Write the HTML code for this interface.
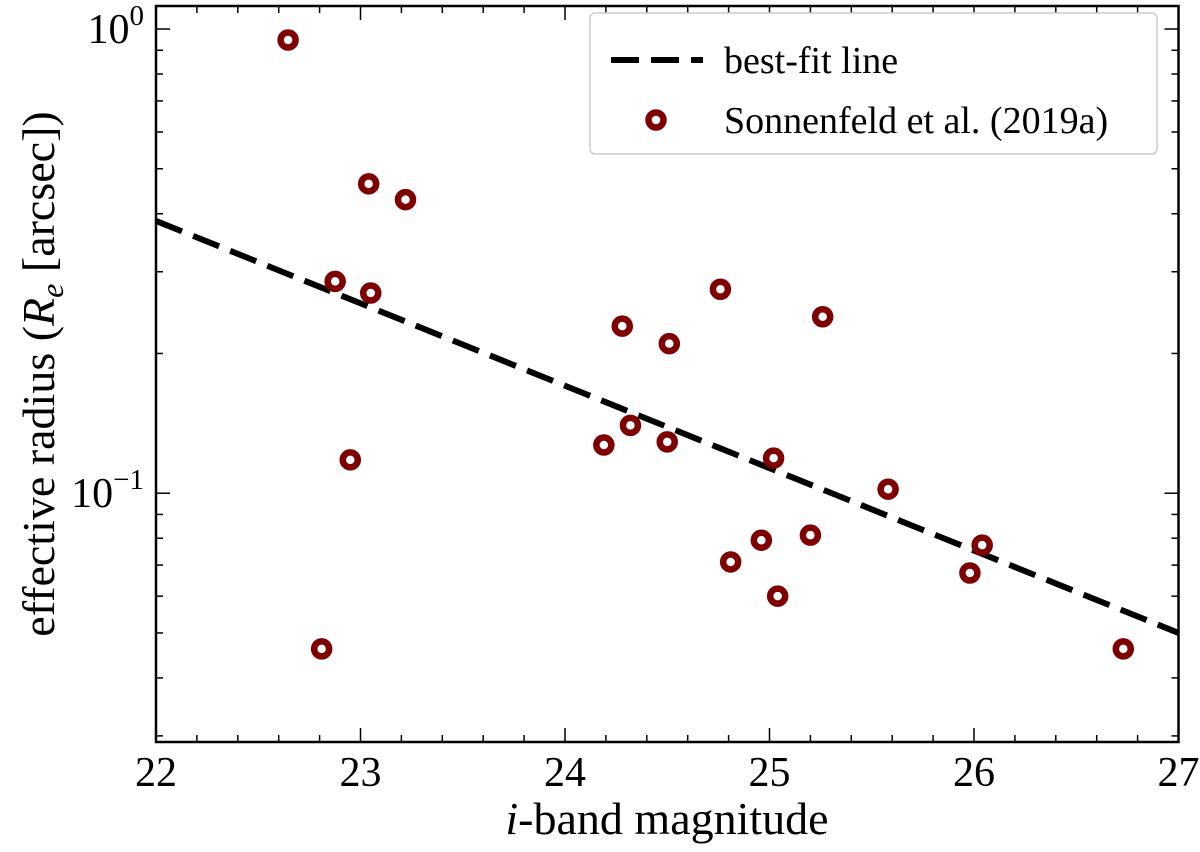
<!DOCTYPE html>
<html><head><meta charset="utf-8"><style>
body{margin:0;background:#fff;position:relative}
text{font-family:"Liberation Serif",serif;fill:#000}
</style></head><body>
<svg id="chart" width="1200" height="847" viewBox="0 0 1200 847" xmlns="http://www.w3.org/2000/svg">
</svg>
<script>
const mags = [22.646,23.04,23.22,22.876,23.05,22.95,22.81,24.19,24.28,24.32,24.51,24.50,24.76,24.81,24.96,25.02,25.04,25.20,25.26,25.58,25.98,26.04,26.73];
const radii = [0.947,0.464,0.429,0.286,0.270,0.118,0.0462,0.127,0.229,0.140,0.210,0.129,0.275,0.0711,0.0792,0.119,0.060,0.0812,0.240,0.102,0.0673,0.0773,0.0462];
const fitX = [22,27];
const fitY = [0.386,0.050];
const xTicks = [22,23,24,25,26,27];
const yMajor = [1,0.1];

const L=156,R=1178.5,T=6,B=742;
const xmin=22,xmax=27,lymax=0.0496,lymin=-1.536;
const sx=v=>L+(v-xmin)/(xmax-xmin)*(R-L);
const sy=v=>T+(lymax-Math.log10(v))/(lymax-lymin)*(B-T);
const svg=document.getElementById('chart');
const NS='http://www.w3.org/2000/svg';
function mk(tag,attrs,parent){const e=document.createElementNS(NS,tag);for(const k in attrs)e.setAttribute(k,attrs[k]);(parent||svg).appendChild(e);return e;}

const fl=mk('line',{x1:sx(fitX[0]),y1:sy(fitY[0]),x2:sx(fitX[1]),y2:sy(fitY[1]),stroke:'#000','stroke-width':6,'stroke-dasharray':'28,12'});



mags.forEach((m,i)=>{
  const c=mk('circle',{cx:sx(m),cy:sy(radii[i]),r:7.5,fill:'#fff',stroke:'#7f0000','stroke-width':6.5});
  
  
});

const fr=mk('rect',{x:L,y:T,width:R-L,height:B-T,fill:'none',stroke:'#000','stroke-width':2.5});



for(let v=22;v<=27.001;v+=0.2){
  const x=sx(v);const major=Math.abs(v-Math.round(v))<1e-6;const len=major?14:7;
  mk('line',{x1:x,y1:B,x2:x,y2:B-len,stroke:'#000','stroke-width':1.5});
  mk('line',{x1:x,y1:T,x2:x,y2:T+len,stroke:'#000','stroke-width':1.5});
}
xTicks.forEach(v=>{
  const t=mk('text',{x:sx(v),y:B+44,'font-size':42,'text-anchor':'middle'});
  t.textContent=v;
  
  
});
[0.03,0.04,0.05,0.06,0.07,0.08,0.09,0.1,0.2,0.3,0.4,0.5,0.6,0.7,0.8,0.9,1].forEach(v=>{
  const y=sy(v);const major=yMajor.some(m=>Math.abs(m-v)<1e-9);const len=major?14:7;
  mk('line',{x1:L,y1:y,x2:L+len,y2:y,stroke:'#000','stroke-width':1.5});
  mk('line',{x1:R,y1:y,x2:R-len,y2:y,stroke:'#000','stroke-width':1.5});
});
yMajor.forEach(v=>{
  const t=mk('text',{x:L-12,y:sy(v)+14,'font-size':42,'text-anchor':'end'});
  t.innerHTML='10<tspan dy="-18" font-size="29">'+(Math.round(Math.log10(v))===0?'0':'\u22121')+'</tspan>';
  
  
});
</script>
<svg width="1200" height="847" style="position:absolute;left:0;top:0" xmlns="http://www.w3.org/2000/svg">
<text x="667" y="834" font-size="46" text-anchor="middle"><tspan font-style="italic">i</tspan>-band magnitude</text>
<text transform="translate(54,374) rotate(-90)" font-size="46" text-anchor="middle">effective radius (<tspan font-style="italic">R</tspan><tspan font-style="italic" font-size="32" dy="9">e</tspan><tspan dy="-9"> [arcsec])</tspan></text>
<g>
<rect x="590" y="13" width="567" height="141" rx="5" fill="#fff" stroke="#ccc" stroke-width="1.5"/>
<line x1="611" y1="60" x2="703" y2="60" stroke="#000" stroke-width="6" stroke-dasharray="28,12"/>
<text x="724" y="73" font-size="38">best-fit line</text>
<circle cx="656" cy="120" r="7.5" fill="#fff" stroke="#7f0000" stroke-width="6.5"/>
<text x="724" y="133" font-size="38">Sonnenfeld et al. (2019a)</text>
</g>
</svg>
</body></html>
